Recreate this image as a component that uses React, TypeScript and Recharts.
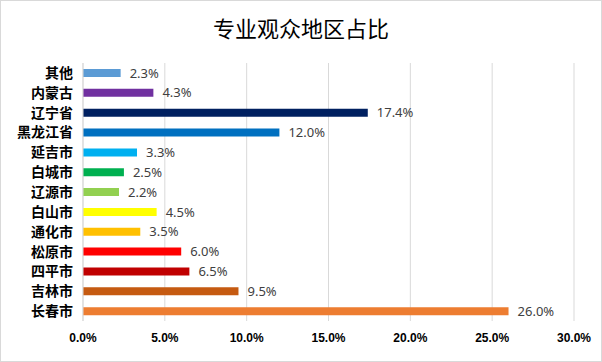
import { BarChart, Bar, XAxis, YAxis, CartesianGrid, Cell, LabelList } from 'recharts';

const regions = ['其他', '内蒙古', '辽宁省', '黑龙江省', '延吉市', '白城市', '辽源市', '白山市', '通化市', '松原市', '四平市', '吉林市', '长春市'];
const shares = [2.3, 4.3, 17.4, 12.0, 3.3, 2.5, 2.2, 4.5, 3.5, 6.0, 6.5, 9.5, 26.0];
const barColors = ['#5B9BD5', '#7030A0', '#002060', '#0070C0', '#00B0F0', '#00B050', '#92D050', '#FFFF00', '#FFC000', '#FF0000', '#C00000', '#C55A11', '#ED7D31'];
const xTicks = [0, 5, 10, 15, 20, 25, 30];

const data = regions.map((name, i) => ({ name, value: shares[i] }));

const fmtPct = (v: number) => `${Number(v).toFixed(1)}%`;

export default function App() {
  return (
    <div
      style={{
        position: 'absolute',
        left: 0,
        top: 0,
        width: 602,
        height: 362,
        boxSizing: 'border-box',
        border: '1px solid #D9D9D9',
        background: '#fff',
        fontFamily: '"Noto Sans CJK SC", "Noto Sans", sans-serif',
      }}
    >
      <div
        style={{
          position: 'absolute',
          left: 0,
          right: 0,
          top: 12,
          textAlign: 'center',
          fontSize: 22,
          color: '#000',
          lineHeight: '28px',
        }}
      >
        专业观众地区占比
      </div>
      <div style={{ position: 'absolute', left: -1, top: -1 }}>
        <BarChart
          width={602}
          height={362}
          data={data}
          layout="vertical"
          margin={{ top: 63, right: 28, left: 0, bottom: 11 }}
        >
          <CartesianGrid horizontal={false} stroke="#D9D9D9" />
          <XAxis
            type="number"
            domain={[0, 30]}
            ticks={xTicks}
            tickFormatter={fmtPct}
            axisLine={false}
            tickLine={false}
            height={30}
            tickMargin={6}
            tick={{ fontSize: 12, fontWeight: 700, fill: '#000', fontFamily: '"Liberation Sans", sans-serif' }}
          />
          <YAxis
            type="category"
            dataKey="name"
            width={83}
            axisLine={{ stroke: '#D9D9D9' }}
            tickLine={false}
            tickMargin={4}
            interval={0}
            tick={{ fontSize: 14, fontWeight: 700, fill: '#000', fontFamily: '"Noto Sans CJK SC", sans-serif' }}
          />
          <Bar dataKey="value" barSize={8} isAnimationActive={false}>
            {data.map((d, i) => (
              <Cell key={d.name} fill={barColors[i]} />
            ))}
            <LabelList
              dataKey="value"
              position="right"
              offset={9}
              formatter={fmtPct}
              style={{ fontSize: 13, fill: '#404040', fontFamily: '"Noto Sans", sans-serif' }}
            />
          </Bar>
        </BarChart>
      </div>
    </div>
  );
}
